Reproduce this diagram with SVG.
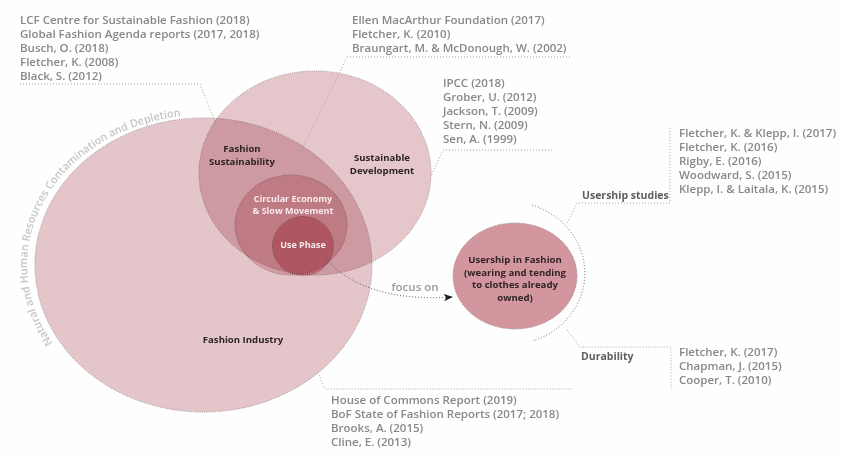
<svg xmlns="http://www.w3.org/2000/svg" width="844" height="454" viewBox="0 0 844 454">
  <style>
    .ref { font-family: "Open Sans", "Liberation Sans", sans-serif; font-weight: 600; font-size: 11.5px; fill: #888888; }
    .lbl { font-family: "Open Sans", "Liberation Sans", sans-serif; font-weight: 700; font-size: 9.6px; fill: #2e2424; text-anchor: middle; }
    .wlbl { font-family: "Open Sans", "Liberation Sans", sans-serif; font-weight: 700; font-size: 9px; fill: #f7eaec; text-anchor: middle; }
    .side { font-family: "Open Sans", "Liberation Sans", sans-serif; font-weight: 700; font-size: 10.5px; fill: #5e5e5e; }
    .arcText { font-family: "Open Sans", "Liberation Sans", sans-serif; font-weight: 600; font-size: 10.8px; fill: #c6c6c6; }
    .edge { stroke: #9c8a8d; stroke-width: 1; stroke-dasharray: 1 1.2; }
    .lead { fill: none; stroke: #a3a3a3; stroke-width: 1; stroke-dasharray: 1 2; }
    .mul { mix-blend-mode: multiply; }
  </style>
  <defs>
    <marker id="arrow" viewBox="0 0 10 10" refX="9" refY="5" markerWidth="9" markerHeight="9" orient="auto" markerUnits="userSpaceOnUse">
      <path d="M0,1 L10,5 L0,9 L2.5,5 Z" fill="#1e1e1e"/>
    </marker>
    <path id="resPath" d="M52.8,343 A176 150 0 0 1 178.7,116.5"/>
  </defs>

  <rect width="844" height="454" fill="#fefefe"/>

  <g id="fashion-industry">
    <ellipse class="edge" cx="203.5" cy="265" rx="168.5" ry="147" fill="#e4c5c9"/>
    <text class="lbl" x="243" y="343">Fashion Industry</text>
  </g>

  <g id="sustainable-development" class="mul">
    <ellipse class="edge" cx="315" cy="173" rx="116" ry="102" fill="#e6c8cc"/>
  </g>

  <g id="circular-economy" class="mul">
    <ellipse class="edge" cx="291" cy="225" rx="56" ry="50" fill="#eecbd1"/>
  </g>

  <g id="use-phase" class="mul">
    <ellipse class="edge" cx="303" cy="246" rx="30.5" ry="29.5" fill="#e9b1bb"/>
  </g>

  <g id="labels-inner">
    <text class="lbl" x="242" y="152">Fashion</text>
    <text class="lbl" x="242" y="164.5">Sustainability</text>
    <text class="lbl" x="382" y="161">Sustainable</text>
    <text class="lbl" x="382" y="173.5">Development</text>
    <text class="wlbl" x="293" y="202">Circular Economy</text>
    <text class="wlbl" x="293" y="214">&amp; Slow Movement</text>
    <text class="wlbl" x="303" y="248">Use Phase</text>
  </g>

  <g id="resources-ring">
    <text class="arcText"><textPath href="#resPath">Natural and Human Resources Contamination and Depletion</textPath></text>
  </g>

  <g id="usership">
    <ellipse class="edge" cx="515" cy="276" rx="62" ry="53" fill="#d4969e"/>
    <text class="lbl" x="515" y="263">Usership in Fashion</text>
    <text class="lbl" x="515" y="275.5">(wearing and tending</text>
    <text class="lbl" x="515" y="288">to clothes already</text>
    <text class="lbl" x="515" y="300.5">owned)</text>
  </g>

  <g id="connectors">
    <path class="lead" d="M20,84 H200 L215,122"/>
    <path class="lead" d="M570,57 H347 L288,178"/>
    <path class="lead" d="M552,150 H443 L431,176"/>
    <path class="lead" d="M670,128 V203 H577 L567,223"/>
    <path class="lead" d="M567,330 L580,347 H671 V390"/>
    <path class="lead" d="M318,372 L325,389 H572"/>
    <path class="lead" d="M532,205 A78 72 0 0 1 533,341" style="stroke:#6a6a6a"/>
    <path class="lead" d="M322,255 Q362,303 452,297" style="stroke:#505050" marker-end="url(#arrow)"/>
  </g>

  <g id="ref-fashion-sustainability">
    <text class="ref" x="20" y="24">LCF Centre for Sustainable Fashion (2018)</text>
    <text class="ref" x="20" y="38">Global Fashion Agenda reports (2017, 2018)</text>
    <text class="ref" x="20" y="52">Busch, O. (2018)</text>
    <text class="ref" x="20" y="66">Fletcher, K. (2008)</text>
    <text class="ref" x="20" y="80">Black, S. (2012)</text>
  </g>

  <g id="ref-circular-economy">
    <text class="ref" x="352" y="24">Ellen MacArthur Foundation (2017)</text>
    <text class="ref" x="352" y="38">Fletcher, K. (2010)</text>
    <text class="ref" x="352" y="52">Braungart, M. &amp; McDonough, W. (2002)</text>
  </g>

  <g id="ref-sustainable-development">
    <text class="ref" x="443" y="87">IPCC (2018)</text>
    <text class="ref" x="443" y="101">Grober, U. (2012)</text>
    <text class="ref" x="443" y="115">Jackson, T. (2009)</text>
    <text class="ref" x="443" y="129">Stern, N. (2009)</text>
    <text class="ref" x="443" y="143">Sen, A. (1999)</text>
  </g>

  <g id="usership-studies">
    <text class="side" x="582" y="199">Usership studies</text>
    <text class="ref" x="679" y="137">Fletcher, K. &amp; Klepp, I. (2017)</text>
    <text class="ref" x="679" y="151">Fletcher, K. (2016)</text>
    <text class="ref" x="679" y="165">Rigby, E. (2016)</text>
    <text class="ref" x="679" y="179">Woodward, S. (2015)</text>
    <text class="ref" x="679" y="193">Klepp, I. &amp; Laitala, K. (2015)</text>
  </g>

  <g id="durability">
    <text class="side" x="581" y="360">Durability</text>
    <text class="ref" x="679" y="356">Fletcher, K. (2017)</text>
    <text class="ref" x="679" y="370">Chapman, J. (2015)</text>
    <text class="ref" x="679" y="384">Cooper, T.  (2010)</text>
  </g>

  <g id="ref-fashion-industry">
    <text class="ref" x="331" y="404">House of Commons Report (2019)</text>
    <text class="ref" x="331" y="418">BoF State of Fashion Reports (2017; 2018)</text>
    <text class="ref" x="331" y="432">Brooks, A. (2015)</text>
    <text class="ref" x="331" y="446">Cline, E. (2013)</text>
  </g>

  <g id="focus-label">
    <text class="ref" x="415" y="291" text-anchor="middle" style="fill:#9a9a9a">focus on</text>
  </g>
</svg>
